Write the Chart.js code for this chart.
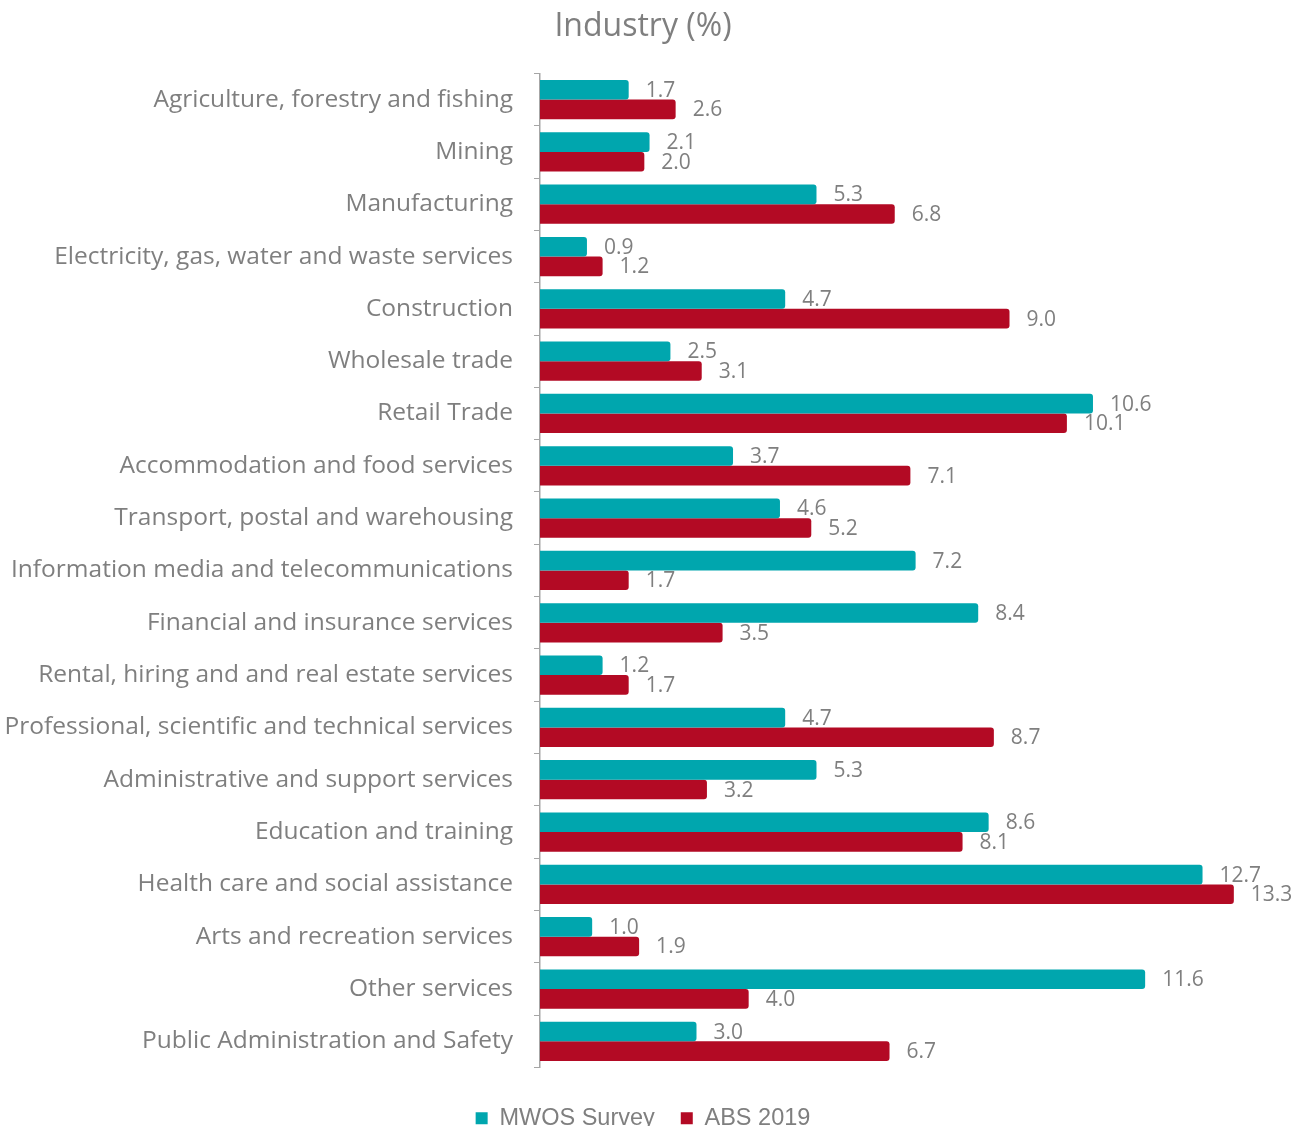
<!DOCTYPE html>
<html>
<head>
<meta charset="utf-8">
<script src="https://cdn.jsdelivr.net/npm/chart.js@4"></script>
<style>
  html, body { margin: 0; padding: 0; overflow: hidden; background: #fff; }
  #wrap { width: 1308px; height: 1140px; }
</style>
</head>
<body>
<div id="wrap"><canvas id="industryChart" width="1308" height="1140"></canvas></div>
<script>
/* global Chart */

const industries = [
  'Agriculture, forestry and fishing',
  'Mining',
  'Manufacturing',
  'Electricity, gas, water and waste services',
  'Construction',
  'Wholesale trade',
  'Retail Trade',
  'Accommodation and food services',
  'Transport, postal and warehousing',
  'Information media and telecommunications',
  'Financial and insurance services',
  'Rental, hiring and and real estate services',
  'Professional, scientific and technical services',
  'Administrative and support services',
  'Education and training',
  'Health care and social assistance',
  'Arts and recreation services',
  'Other services',
  'Public Administration and Safety',
];
const mwosSurvey = [1.7, 2.1, 5.3, 0.9, 4.7, 2.5, 10.6, 3.7, 4.6, 7.2, 8.4, 1.2, 4.7, 5.3, 8.6, 12.7, 1.0, 11.6, 3.0];
const abs2019 = [2.6, 2.0, 6.8, 1.2, 9.0, 3.1, 10.1, 7.1, 5.2, 1.7, 3.5, 1.7, 8.7, 3.2, 8.1, 13.3, 1.9, 4.0, 6.7];

const textGrey = '#7f7f7f';
const bodyFont = '"Open Sans", "Noto Sans", sans-serif';

// value labels just past the end of each bar
const barValues = {
  id: 'barValues',
  afterDatasetsDraw(chart) {
    const { ctx } = chart;
    ctx.save();
    ctx.fillStyle = textGrey;
    ctx.font = `21px ${bodyFont}`;
    ctx.textAlign = 'left';
    ctx.textBaseline = 'middle';
    chart.data.datasets.forEach((ds, i) => {
      chart.getDatasetMeta(i).data.forEach((bar, j) => {
        ctx.fillText(ds.data[j].toFixed(1), bar.x + 17, bar.y + 1);
      });
    });
    ctx.restore();
  },
};

new Chart(document.getElementById('industryChart'), {
  type: 'bar',
  data: {
    labels: industries,
    datasets: [
      {
        label: 'MWOS Survey',
        data: mwosSurvey,
        backgroundColor: '#00a6ae',
        borderRadius: 3,
        borderSkipped: 'start',
      },
      {
        label: 'ABS 2019',
        data: abs2019,
        backgroundColor: '#b30a24',
        borderRadius: 3,
        borderSkipped: 'start',
      },
    ],
  },
  options: {
    indexAxis: 'y',
    responsive: false,
    animation: false,
    datasets: {
      bar: { categoryPercentage: 0.75, barPercentage: 1.0 },
    },
    layout: { padding: { top: 8, right: 22, bottom: 0, left: 0 } },
    scales: {
      x: {
        // no visible axis, only a gap above the legend
        display: true,
        min: 0,
        max: 14.3,
        afterFit(scale) { scale.height = 13; },
        ticks: { display: false },
        grid: { display: false },
        border: { display: false },
      },
      y: {
        afterFit(scale) { scale.width = 540; },
        grid: {
          offset: true,
          drawOnChartArea: false,
          drawTicks: true,
          tickLength: 6,
          color: '#a6a6a6',
        },
        border: { display: true, color: '#a6a6a6', width: 1.5 },
        ticks: {
          color: textGrey,
          padding: 21,
          font: { family: bodyFont, size: 24.5 },
        },
      },
    },
    plugins: {
      title: {
        display: true,
        text: 'Industry (%)',
        color: textGrey,
        font: { family: bodyFont, size: 32, weight: 'normal' },
        padding: { top: 0, bottom: 27 },
      },
      legend: {
        position: 'bottom',
        labels: {
          boxWidth: 12,
          boxHeight: 12,
          color: textGrey,
          padding: 26,
          font: { family: '"Liberation Sans", Arial, sans-serif', size: 23.5 },
        },
      },
      tooltip: { enabled: false },
    },
  },
  plugins: [barValues],
});
</script>
</body>
</html>
